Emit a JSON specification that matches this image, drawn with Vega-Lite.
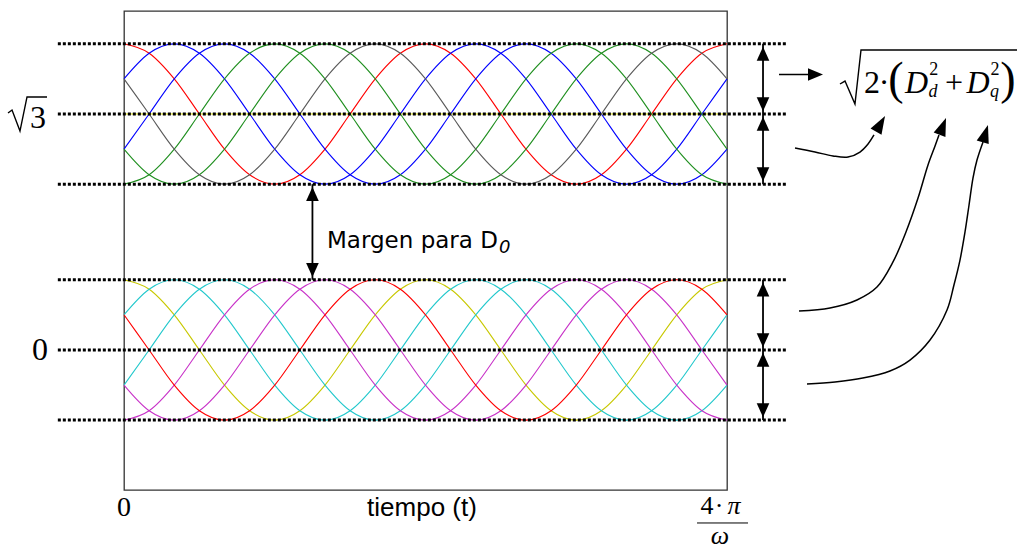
{
  "$schema": "https://vega.github.io/schema/vega-lite/v6.json",
  "width": 603,
  "height": 479,
  "autosize": {"type": "none"},
  "padding": {"left": 124, "top": 11, "right": 291, "bottom": 60},
  "background": "white",
  "config": {"view": {"stroke": "#333333", "strokeWidth": 1.3}},
  "datasets": {
    "waves": [
      {"s":"T0","t":0,"v":2.247},{"s":"T0","t":30,"v":2.178},{"s":"T0","t":60,"v":1.99},{"s":"T0","t":90,"v":1.732},{"s":"T0","t":120,"v":1.474},{"s":"T0","t":150,"v":1.286},{"s":"T0","t":180,"v":1.217},{"s":"T0","t":210,"v":1.286},{"s":"T0","t":240,"v":1.474},{"s":"T0","t":270,"v":1.732},{"s":"T0","t":300,"v":1.99},{"s":"T0","t":330,"v":2.178},{"s":"T0","t":360,"v":2.247},{"s":"T0","t":390,"v":2.178},{"s":"T0","t":420,"v":1.99},{"s":"T0","t":450,"v":1.732},{"s":"T0","t":480,"v":1.474},{"s":"T0","t":510,"v":1.286},{"s":"T0","t":540,"v":1.217},{"s":"T0","t":570,"v":1.286},{"s":"T0","t":600,"v":1.474},{"s":"T0","t":630,"v":1.732},{"s":"T0","t":660,"v":1.99},{"s":"T0","t":690,"v":2.178},{"s":"T0","t":720,"v":2.247},
      {"s":"T60","t":0,"v":1.99},{"s":"T60","t":30,"v":2.178},{"s":"T60","t":60,"v":2.247},{"s":"T60","t":90,"v":2.178},{"s":"T60","t":120,"v":1.99},{"s":"T60","t":150,"v":1.732},{"s":"T60","t":180,"v":1.474},{"s":"T60","t":210,"v":1.286},{"s":"T60","t":240,"v":1.217},{"s":"T60","t":270,"v":1.286},{"s":"T60","t":300,"v":1.474},{"s":"T60","t":330,"v":1.732},{"s":"T60","t":360,"v":1.99},{"s":"T60","t":390,"v":2.178},{"s":"T60","t":420,"v":2.247},{"s":"T60","t":450,"v":2.178},{"s":"T60","t":480,"v":1.99},{"s":"T60","t":510,"v":1.732},{"s":"T60","t":540,"v":1.474},{"s":"T60","t":570,"v":1.286},{"s":"T60","t":600,"v":1.217},{"s":"T60","t":630,"v":1.286},{"s":"T60","t":660,"v":1.474},{"s":"T60","t":690,"v":1.732},{"s":"T60","t":720,"v":1.99},
      {"s":"T120","t":0,"v":1.474},{"s":"T120","t":30,"v":1.732},{"s":"T120","t":60,"v":1.99},{"s":"T120","t":90,"v":2.178},{"s":"T120","t":120,"v":2.247},{"s":"T120","t":150,"v":2.178},{"s":"T120","t":180,"v":1.99},{"s":"T120","t":210,"v":1.732},{"s":"T120","t":240,"v":1.474},{"s":"T120","t":270,"v":1.286},{"s":"T120","t":300,"v":1.217},{"s":"T120","t":330,"v":1.286},{"s":"T120","t":360,"v":1.474},{"s":"T120","t":390,"v":1.732},{"s":"T120","t":420,"v":1.99},{"s":"T120","t":450,"v":2.178},{"s":"T120","t":480,"v":2.247},{"s":"T120","t":510,"v":2.178},{"s":"T120","t":540,"v":1.99},{"s":"T120","t":570,"v":1.732},{"s":"T120","t":600,"v":1.474},{"s":"T120","t":630,"v":1.286},{"s":"T120","t":660,"v":1.217},{"s":"T120","t":690,"v":1.286},{"s":"T120","t":720,"v":1.474},
      {"s":"T180","t":0,"v":1.217},{"s":"T180","t":30,"v":1.286},{"s":"T180","t":60,"v":1.474},{"s":"T180","t":90,"v":1.732},{"s":"T180","t":120,"v":1.99},{"s":"T180","t":150,"v":2.178},{"s":"T180","t":180,"v":2.247},{"s":"T180","t":210,"v":2.178},{"s":"T180","t":240,"v":1.99},{"s":"T180","t":270,"v":1.732},{"s":"T180","t":300,"v":1.474},{"s":"T180","t":330,"v":1.286},{"s":"T180","t":360,"v":1.217},{"s":"T180","t":390,"v":1.286},{"s":"T180","t":420,"v":1.474},{"s":"T180","t":450,"v":1.732},{"s":"T180","t":480,"v":1.99},{"s":"T180","t":510,"v":2.178},{"s":"T180","t":540,"v":2.247},{"s":"T180","t":570,"v":2.178},{"s":"T180","t":600,"v":1.99},{"s":"T180","t":630,"v":1.732},{"s":"T180","t":660,"v":1.474},{"s":"T180","t":690,"v":1.286},{"s":"T180","t":720,"v":1.217},
      {"s":"T240","t":0,"v":1.474},{"s":"T240","t":30,"v":1.286},{"s":"T240","t":60,"v":1.217},{"s":"T240","t":90,"v":1.286},{"s":"T240","t":120,"v":1.474},{"s":"T240","t":150,"v":1.732},{"s":"T240","t":180,"v":1.99},{"s":"T240","t":210,"v":2.178},{"s":"T240","t":240,"v":2.247},{"s":"T240","t":270,"v":2.178},{"s":"T240","t":300,"v":1.99},{"s":"T240","t":330,"v":1.732},{"s":"T240","t":360,"v":1.474},{"s":"T240","t":390,"v":1.286},{"s":"T240","t":420,"v":1.217},{"s":"T240","t":450,"v":1.286},{"s":"T240","t":480,"v":1.474},{"s":"T240","t":510,"v":1.732},{"s":"T240","t":540,"v":1.99},{"s":"T240","t":570,"v":2.178},{"s":"T240","t":600,"v":2.247},{"s":"T240","t":630,"v":2.178},{"s":"T240","t":660,"v":1.99},{"s":"T240","t":690,"v":1.732},{"s":"T240","t":720,"v":1.474},
      {"s":"T300","t":0,"v":1.99},{"s":"T300","t":30,"v":1.732},{"s":"T300","t":60,"v":1.474},{"s":"T300","t":90,"v":1.286},{"s":"T300","t":120,"v":1.217},{"s":"T300","t":150,"v":1.286},{"s":"T300","t":180,"v":1.474},{"s":"T300","t":210,"v":1.732},{"s":"T300","t":240,"v":1.99},{"s":"T300","t":270,"v":2.178},{"s":"T300","t":300,"v":2.247},{"s":"T300","t":330,"v":2.178},{"s":"T300","t":360,"v":1.99},{"s":"T300","t":390,"v":1.732},{"s":"T300","t":420,"v":1.474},{"s":"T300","t":450,"v":1.286},{"s":"T300","t":480,"v":1.217},{"s":"T300","t":510,"v":1.286},{"s":"T300","t":540,"v":1.474},{"s":"T300","t":570,"v":1.732},{"s":"T300","t":600,"v":1.99},{"s":"T300","t":630,"v":2.178},{"s":"T300","t":660,"v":2.247},{"s":"T300","t":690,"v":2.178},{"s":"T300","t":720,"v":1.99},
      {"s":"B0","t":0,"v":0.515},{"s":"B0","t":30,"v":0.446},{"s":"B0","t":60,"v":0.258},{"s":"B0","t":90,"v":0},{"s":"B0","t":120,"v":-0.258},{"s":"B0","t":150,"v":-0.446},{"s":"B0","t":180,"v":-0.515},{"s":"B0","t":210,"v":-0.446},{"s":"B0","t":240,"v":-0.258},{"s":"B0","t":270,"v":0},{"s":"B0","t":300,"v":0.258},{"s":"B0","t":330,"v":0.446},{"s":"B0","t":360,"v":0.515},{"s":"B0","t":390,"v":0.446},{"s":"B0","t":420,"v":0.258},{"s":"B0","t":450,"v":0},{"s":"B0","t":480,"v":-0.258},{"s":"B0","t":510,"v":-0.446},{"s":"B0","t":540,"v":-0.515},{"s":"B0","t":570,"v":-0.446},{"s":"B0","t":600,"v":-0.258},{"s":"B0","t":630,"v":0},{"s":"B0","t":660,"v":0.258},{"s":"B0","t":690,"v":0.446},{"s":"B0","t":720,"v":0.515},
      {"s":"B60","t":0,"v":0.258},{"s":"B60","t":30,"v":0.446},{"s":"B60","t":60,"v":0.515},{"s":"B60","t":90,"v":0.446},{"s":"B60","t":120,"v":0.258},{"s":"B60","t":150,"v":0},{"s":"B60","t":180,"v":-0.258},{"s":"B60","t":210,"v":-0.446},{"s":"B60","t":240,"v":-0.515},{"s":"B60","t":270,"v":-0.446},{"s":"B60","t":300,"v":-0.258},{"s":"B60","t":330,"v":0},{"s":"B60","t":360,"v":0.258},{"s":"B60","t":390,"v":0.446},{"s":"B60","t":420,"v":0.515},{"s":"B60","t":450,"v":0.446},{"s":"B60","t":480,"v":0.258},{"s":"B60","t":510,"v":0},{"s":"B60","t":540,"v":-0.258},{"s":"B60","t":570,"v":-0.446},{"s":"B60","t":600,"v":-0.515},{"s":"B60","t":630,"v":-0.446},{"s":"B60","t":660,"v":-0.258},{"s":"B60","t":690,"v":0},{"s":"B60","t":720,"v":0.258},
      {"s":"B120","t":0,"v":-0.258},{"s":"B120","t":30,"v":0},{"s":"B120","t":60,"v":0.258},{"s":"B120","t":90,"v":0.446},{"s":"B120","t":120,"v":0.515},{"s":"B120","t":150,"v":0.446},{"s":"B120","t":180,"v":0.258},{"s":"B120","t":210,"v":0},{"s":"B120","t":240,"v":-0.258},{"s":"B120","t":270,"v":-0.446},{"s":"B120","t":300,"v":-0.515},{"s":"B120","t":330,"v":-0.446},{"s":"B120","t":360,"v":-0.258},{"s":"B120","t":390,"v":0},{"s":"B120","t":420,"v":0.258},{"s":"B120","t":450,"v":0.446},{"s":"B120","t":480,"v":0.515},{"s":"B120","t":510,"v":0.446},{"s":"B120","t":540,"v":0.258},{"s":"B120","t":570,"v":0},{"s":"B120","t":600,"v":-0.258},{"s":"B120","t":630,"v":-0.446},{"s":"B120","t":660,"v":-0.515},{"s":"B120","t":690,"v":-0.446},{"s":"B120","t":720,"v":-0.258},
      {"s":"B180","t":0,"v":-0.515},{"s":"B180","t":30,"v":-0.446},{"s":"B180","t":60,"v":-0.258},{"s":"B180","t":90,"v":0},{"s":"B180","t":120,"v":0.258},{"s":"B180","t":150,"v":0.446},{"s":"B180","t":180,"v":0.515},{"s":"B180","t":210,"v":0.446},{"s":"B180","t":240,"v":0.258},{"s":"B180","t":270,"v":0},{"s":"B180","t":300,"v":-0.258},{"s":"B180","t":330,"v":-0.446},{"s":"B180","t":360,"v":-0.515},{"s":"B180","t":390,"v":-0.446},{"s":"B180","t":420,"v":-0.258},{"s":"B180","t":450,"v":0},{"s":"B180","t":480,"v":0.258},{"s":"B180","t":510,"v":0.446},{"s":"B180","t":540,"v":0.515},{"s":"B180","t":570,"v":0.446},{"s":"B180","t":600,"v":0.258},{"s":"B180","t":630,"v":0},{"s":"B180","t":660,"v":-0.258},{"s":"B180","t":690,"v":-0.446},{"s":"B180","t":720,"v":-0.515},
      {"s":"B240","t":0,"v":-0.258},{"s":"B240","t":30,"v":-0.446},{"s":"B240","t":60,"v":-0.515},{"s":"B240","t":90,"v":-0.446},{"s":"B240","t":120,"v":-0.258},{"s":"B240","t":150,"v":0},{"s":"B240","t":180,"v":0.258},{"s":"B240","t":210,"v":0.446},{"s":"B240","t":240,"v":0.515},{"s":"B240","t":270,"v":0.446},{"s":"B240","t":300,"v":0.258},{"s":"B240","t":330,"v":0},{"s":"B240","t":360,"v":-0.258},{"s":"B240","t":390,"v":-0.446},{"s":"B240","t":420,"v":-0.515},{"s":"B240","t":450,"v":-0.446},{"s":"B240","t":480,"v":-0.258},{"s":"B240","t":510,"v":0},{"s":"B240","t":540,"v":0.258},{"s":"B240","t":570,"v":0.446},{"s":"B240","t":600,"v":0.515},{"s":"B240","t":630,"v":0.446},{"s":"B240","t":660,"v":0.258},{"s":"B240","t":690,"v":0},{"s":"B240","t":720,"v":-0.258},
      {"s":"B300","t":0,"v":0.258},{"s":"B300","t":30,"v":0},{"s":"B300","t":60,"v":-0.258},{"s":"B300","t":90,"v":-0.446},{"s":"B300","t":120,"v":-0.515},{"s":"B300","t":150,"v":-0.446},{"s":"B300","t":180,"v":-0.258},{"s":"B300","t":210,"v":0},{"s":"B300","t":240,"v":0.258},{"s":"B300","t":270,"v":0.446},{"s":"B300","t":300,"v":0.515},{"s":"B300","t":330,"v":0.446},{"s":"B300","t":360,"v":0.258},{"s":"B300","t":390,"v":0},{"s":"B300","t":420,"v":-0.258},{"s":"B300","t":450,"v":-0.446},{"s":"B300","t":480,"v":-0.515},{"s":"B300","t":510,"v":-0.446},{"s":"B300","t":540,"v":-0.258},{"s":"B300","t":570,"v":0},{"s":"B300","t":600,"v":0.258},{"s":"B300","t":630,"v":0.446},{"s":"B300","t":660,"v":0.515},{"s":"B300","t":690,"v":0.446},{"s":"B300","t":720,"v":0.258}
    ],
    "levels": [
      {"t":-79,"t2":792,"v":2.247},{"t":-79,"t2":792,"v":1.732},{"t":-79,"t2":792,"v":1.217},
      {"t":-79,"t2":792,"v":0.515},{"t":-79,"t2":792,"v":0},{"t":-79,"t2":792,"v":-0.515}
    ],
    "spans": [
      {"t":763,"v":2.247,"v2":1.732},{"t":763,"v":1.732,"v2":1.217},
      {"t":763,"v":0.515,"v2":0},{"t":763,"v":0,"v2":-0.515},
      {"t":225,"v":1.217,"v2":0.515}
    ],
    "curves": [
      {"c":"c1","t":801.2,"v":1.482},{"c":"c1","t":825.1,"v":1.453},{"c":"c1","t":846.6,"v":1.424},{"c":"c1","t":864.5,"v":1.416},{"c":"c1","t":878.8,"v":1.453},{"c":"c1","t":888.4,"v":1.512},{"c":"c1","t":895.5,"v":1.578},
      {"c":"c2","t":806.0,"v":0.286},{"c":"c2","t":843.0,"v":0.308},{"c":"c2","t":875.2,"v":0.367},{"c":"c2","t":899.1,"v":0.462},{"c":"c2","t":918.2,"v":0.646},{"c":"c2","t":933.7,"v":0.866},{"c":"c2","t":948.1,"v":1.115},{"c":"c2","t":960.0,"v":1.358},{"c":"c2","t":968.4,"v":1.497},{"c":"c2","t":973.1,"v":1.578},
      {"c":"c3","t":815.5,"v":-0.25},{"c":"c3","t":849.0,"v":-0.235},{"c":"c3","t":882.2,"v":-0.206},{"c":"c3","t":914.6,"v":-0.154},{"c":"c3","t":938.5,"v":-0.074},{"c":"c3","t":962.4,"v":0.073},{"c":"c3","t":982.7,"v":0.293},{"c":"c3","t":991.0,"v":0.477},{"c":"c3","t":998.2,"v":0.66},{"c":"c3","t":1004.2,"v":0.866},{"c":"c3","t":1009.0,"v":1.064},{"c":"c3","t":1013.7,"v":1.262},{"c":"c3","t":1018.5,"v":1.394},{"c":"c3","t":1025.7,"v":1.527}
    ],
    "heads": [
      {"id":"c1","t":908.7,"v":1.717},
      {"id":"c2","t":981.5,"v":1.703},
      {"id":"c3","t":1031.6,"v":1.651},
      {"id":"r","t":834.6,"v":2.022}
    ],
    "radicals": [
      {"r":"sqrt3","t":-138.5,"v":1.739},{"r":"sqrt3","t":-133.7,"v":1.761},{"r":"sqrt3","t":-124.2,"v":1.607},{"r":"sqrt3","t":-115.8,"v":1.857},{"r":"sqrt3","t":-91.9,"v":1.857},
      {"r":"rms","t":854.9,"v":1.952},{"r":"rms","t":860.9,"v":1.974},{"r":"rms","t":872.8,"v":1.805},{"r":"rms","t":880.0,"v":2.202},{"r":"rms","t":1066.3,"v":2.202}
    ],
    "labels": [
      {"role":"main","txt":"2","t":893.1,"v":1.886},
      {"role":"main","txt":"·","t":907.5,"v":1.886},
      {"role":"main","txt":"+","t":991.0,"v":1.886},
      {"role":"mainI","txt":"D","t":946.3,"v":1.886},
      {"role":"mainI","txt":"D","t":1019.7,"v":1.886},
      {"role":"paren","txt":"(","t":921.8,"v":1.879},
      {"role":"paren","txt":")","t":1055.5,"v":1.879},
      {"role":"sup","txt":"2","t":966.8,"v":2.018},
      {"role":"sup","txt":"2","t":1040.0,"v":2.018},
      {"role":"sub","txt":"d","t":966.0,"v":1.857},
      {"role":"sub","txt":"q","t":1039.4,"v":1.857},
      {"role":"ylab","txt":"3","t":-102.7,"v":1.629},
      {"role":"ylab","txt":"0","t":-100.3,"v":-0.074},
      {"role":"xlab","txt":"0","t":0,"v":-1.219},
      {"role":"frac","txt":"4","t":696.1,"v":-1.204},
      {"role":"frac","txt":"·","t":710.4,"v":-1.204},
      {"role":"fracI","txt":"π","t":728.4,"v":-1.204},
      {"role":"fracI","txt":"ω","t":711.6,"v":-1.424},
      {"role":"title","txt":"tiempo (t)","t":355.8,"v":-1.219},
      {"role":"margin","txt":"Margen para D","t":242.4,"v":0.748},
      {"role":"marginSub","txt":"0","t":447.8,"v":0.712}
    ]
  },
  "encoding": {
    "x": {"field": "t", "type": "quantitative", "scale": {"domain": [0, 720], "nice": false, "zero": false}, "axis": null},
    "y": {"field": "v", "type": "quantitative", "scale": {"domain": [-1.028, 2.488], "nice": false, "zero": false}, "axis": null}
  },
  "layer": [
    {
      "data": {"values": [{"t": 0, "t2": 720, "v": 1.732}]},
      "mark": {"type": "rule", "color": "#e3e300", "strokeWidth": 1},
      "encoding": {"x2": {"field": "t2"}}
    },
    {
      "data": {"name": "waves"},
      "mark": {"type": "line", "interpolate": "monotone", "strokeWidth": 1.1},
      "encoding": {
        "color": {
          "field": "s", "type": "nominal", "legend": null,
          "scale": {
            "domain": ["T0","T60","T120","T180","T240","T300","B0","B60","B120","B180","B240","B300"],
            "range": ["#ff0000","#0000ff","#0000ff","#1f8f1f","#1f8f1f","#5a5a5a","#c8c800","#22c8cc","#22c8cc","#c832c8","#c832c8","#ff0000"]
          }
        }
      }
    },
    {
      "data": {"name": "levels"},
      "mark": {"type": "rule", "color": "black", "strokeWidth": 3, "strokeDash": [3, 2], "strokeCap": "butt"},
      "encoding": {"x2": {"field": "t2"}}
    },
    {
      "data": {"name": "spans"},
      "mark": {"type": "rule", "color": "black", "strokeWidth": 1.8},
      "encoding": {"y2": {"field": "v2"}}
    },
    {
      "data": {"name": "spans"},
      "mark": {"type": "point", "shape": "M0,0.4L-0.9,2.4L0.9,2.4Z", "size": 196, "filled": true, "color": "black", "opacity": 1, "strokeWidth": 0}
    },
    {
      "data": {"name": "spans"},
      "mark": {"type": "point", "shape": "M0,0.4L-0.9,2.4L0.9,2.4Z", "size": 196, "angle": 180, "filled": true, "color": "black", "opacity": 1, "strokeWidth": 0},
      "encoding": {"y": {"field": "v2", "type": "quantitative", "scale": {"domain": [-1.028, 2.488], "nice": false, "zero": false}, "axis": null}}
    },
    {
      "data": {"values": [{"t": 782.1, "t2": 825.1, "v": 2.022}]},
      "mark": {"type": "rule", "color": "black", "strokeWidth": 1.6},
      "encoding": {"x2": {"field": "t2"}}
    },
    {
      "data": {"name": "heads"},
      "transform": [{"filter": "datum.id == 'r'"}],
      "mark": {"type": "point", "shape": "M0,0L-0.84,2L0.84,2Z", "size": 225, "angle": 90, "filled": true, "color": "black", "opacity": 1, "strokeWidth": 0}
    },
    {
      "data": {"name": "curves"},
      "mark": {"type": "line", "interpolate": "catmull-rom", "color": "black", "strokeWidth": 1.5},
      "encoding": {"detail": {"field": "c"}}
    },
    {
      "data": {"name": "heads"},
      "transform": [{"filter": "datum.id == 'c1'"}],
      "mark": {"type": "point", "shape": "M0,0L-0.7,2L0.7,2Z", "size": 324, "angle": 30, "filled": true, "color": "black", "opacity": 1, "strokeWidth": 0}
    },
    {
      "data": {"name": "heads"},
      "transform": [{"filter": "datum.id == 'c2'"}],
      "mark": {"type": "point", "shape": "M0,0L-0.7,2L0.7,2Z", "size": 324, "angle": 21, "filled": true, "color": "black", "opacity": 1, "strokeWidth": 0}
    },
    {
      "data": {"name": "heads"},
      "transform": [{"filter": "datum.id == 'c3'"}],
      "mark": {"type": "point", "shape": "M0,0L-0.7,2L0.7,2Z", "size": 324, "angle": 17, "filled": true, "color": "black", "opacity": 1, "strokeWidth": 0}
    },
    {
      "data": {"name": "radicals"},
      "mark": {"type": "line", "color": "black", "strokeWidth": 1.4, "strokeJoin": "miter"},
      "encoding": {"detail": {"field": "r"}}
    },
    {
      "data": {"values": [{"t": 684.2, "t2": 745.1, "v": -1.27}]},
      "mark": {"type": "rule", "color": "black", "strokeWidth": 1},
      "encoding": {"x2": {"field": "t2"}}
    },
    {
      "data": {"name": "labels"},
      "transform": [{"filter": "datum.role == 'main'"}],
      "mark": {"type": "text", "font": "Liberation Serif", "fontSize": 32, "align": "center", "baseline": "alphabetic", "color": "black"},
      "encoding": {"text": {"field": "txt"}}
    },
    {
      "data": {"name": "labels"},
      "transform": [{"filter": "datum.role == 'mainI'"}],
      "mark": {"type": "text", "font": "Liberation Serif", "fontSize": 32, "fontStyle": "italic", "align": "center", "baseline": "alphabetic", "color": "black"},
      "encoding": {"text": {"field": "txt"}}
    },
    {
      "data": {"name": "labels"},
      "transform": [{"filter": "datum.role == 'paren'"}],
      "mark": {"type": "text", "font": "Liberation Serif", "fontSize": 46, "align": "center", "baseline": "alphabetic", "color": "black"},
      "encoding": {"text": {"field": "txt"}}
    },
    {
      "data": {"name": "labels"},
      "transform": [{"filter": "datum.role == 'sup'"}],
      "mark": {"type": "text", "font": "Liberation Serif", "fontSize": 18, "align": "center", "baseline": "alphabetic", "color": "black"},
      "encoding": {"text": {"field": "txt"}}
    },
    {
      "data": {"name": "labels"},
      "transform": [{"filter": "datum.role == 'sub'"}],
      "mark": {"type": "text", "font": "Liberation Serif", "fontSize": 18, "fontStyle": "italic", "align": "center", "baseline": "alphabetic", "color": "black"},
      "encoding": {"text": {"field": "txt"}}
    },
    {
      "data": {"name": "labels"},
      "transform": [{"filter": "datum.role == 'ylab'"}],
      "mark": {"type": "text", "font": "Liberation Serif", "fontSize": 32, "align": "center", "baseline": "alphabetic", "color": "black"},
      "encoding": {"text": {"field": "txt"}}
    },
    {
      "data": {"name": "labels"},
      "transform": [{"filter": "datum.role == 'xlab'"}],
      "mark": {"type": "text", "font": "Liberation Serif", "fontSize": 28, "align": "center", "baseline": "alphabetic", "color": "black"},
      "encoding": {"text": {"field": "txt"}}
    },
    {
      "data": {"name": "labels"},
      "transform": [{"filter": "datum.role == 'frac'"}],
      "mark": {"type": "text", "font": "Liberation Serif", "fontSize": 26, "align": "center", "baseline": "alphabetic", "color": "black"},
      "encoding": {"text": {"field": "txt"}}
    },
    {
      "data": {"name": "labels"},
      "transform": [{"filter": "datum.role == 'fracI'"}],
      "mark": {"type": "text", "font": "Liberation Serif", "fontSize": 26, "fontStyle": "italic", "align": "center", "baseline": "alphabetic", "color": "black"},
      "encoding": {"text": {"field": "txt"}}
    },
    {
      "data": {"name": "labels"},
      "transform": [{"filter": "datum.role == 'title'"}],
      "mark": {"type": "text", "font": "Liberation Sans", "fontSize": 26, "align": "center", "baseline": "alphabetic", "color": "black"},
      "encoding": {"text": {"field": "txt"}}
    },
    {
      "data": {"name": "labels"},
      "transform": [{"filter": "datum.role == 'margin'"}],
      "mark": {"type": "text", "font": "DejaVu Sans", "fontSize": 23, "align": "left", "baseline": "alphabetic", "color": "black"},
      "encoding": {"text": {"field": "txt"}}
    },
    {
      "data": {"name": "labels"},
      "transform": [{"filter": "datum.role == 'marginSub'"}],
      "mark": {"type": "text", "font": "DejaVu Sans", "fontSize": 18, "fontStyle": "italic", "align": "left", "baseline": "alphabetic", "color": "black"},
      "encoding": {"text": {"field": "txt"}}
    }
  ]
}
